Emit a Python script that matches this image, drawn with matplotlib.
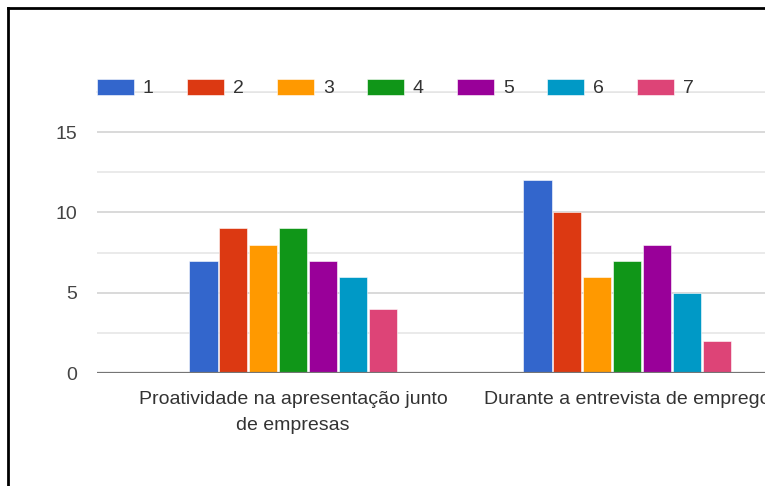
import matplotlib
matplotlib.use('Agg')
from matplotlib import pyplot as plt
from matplotlib.lines import Line2D
import numpy as np

plt.rc('font', family='Liberation Sans', size=14)

categories = ['Proatividade na apresentação junto\nde empresas',
              'Durante a entrevista de emprego']
series = ['1', '2', '3', '4', '5', '6', '7']
values = [
    [7, 12],
    [9, 10],
    [8, 6],
    [9, 7],
    [7, 8],
    [6, 5],
    [4, 2],
]
colors = ['#3366cc', '#dc3912', '#ff9900', '#109618', '#990099', '#0099c6',
          '#dd4477']

fig = plt.figure(figsize=(7.65, 4.86), dpi=100)
ax = fig.add_axes([97 / 765, 113 / 486, 1 - 97 / 765, 281 / 486])

x = np.arange(len(categories))
slot = 0.0895
for i, (name, vals) in enumerate(zip(series, values)):
    ax.bar(x + (i - 3) * slot, vals, width=0.085, color=colors[i],
           edgecolor='white', linewidth=0.4, label=name, zorder=3)

ax.set_xlim(-0.587, 1.413)
ax.set_ylim(0, 17.5)
ax.set_yticks([0, 5, 10, 15])
ax.set_yticks([2.5, 7.5, 12.5, 17.5], minor=True)
ax.grid(axis='y', which='major', color='#d0d0d0', linewidth=1.1, zorder=0)
ax.grid(axis='y', which='minor', color='#e4e4e4', linewidth=1.1, zorder=0)
ax.axhline(17.5, color='#e4e4e4', linewidth=1.1, zorder=0, clip_on=False)
ax.axhline(0, color='#757575', linewidth=1.6, zorder=4)
ax.set_xticks(x)
ax.set_xticklabels(categories, color='#333333', linespacing=1.65)
ax.tick_params(axis='x', length=0, pad=13)
ax.tick_params(axis='y', which='both', length=0, pad=14, labelcolor='#444444')
for s in ax.spines.values():
    s.set_visible(False)

fig.legend(loc='center left', bbox_to_anchor=(97 / 765, 1 - 88 / 486),
           ncol=7, frameon=False, borderpad=0, borderaxespad=0,
           handlelength=1.9, handleheight=0.93, handletextpad=0.46,
           columnspacing=1.71, labelcolor='#333333')

# frame along the left and top edges
fig.add_artist(Line2D([8 / 765, 8 / 765], [0, 1 - 8 / 486], color='black',
                      linewidth=2, transform=fig.transFigure))
fig.add_artist(Line2D([8 / 765, 1], [1 - 8 / 486, 1 - 8 / 486], color='black',
                      linewidth=2, transform=fig.transFigure))

fig.savefig('out.png', dpi=100)
